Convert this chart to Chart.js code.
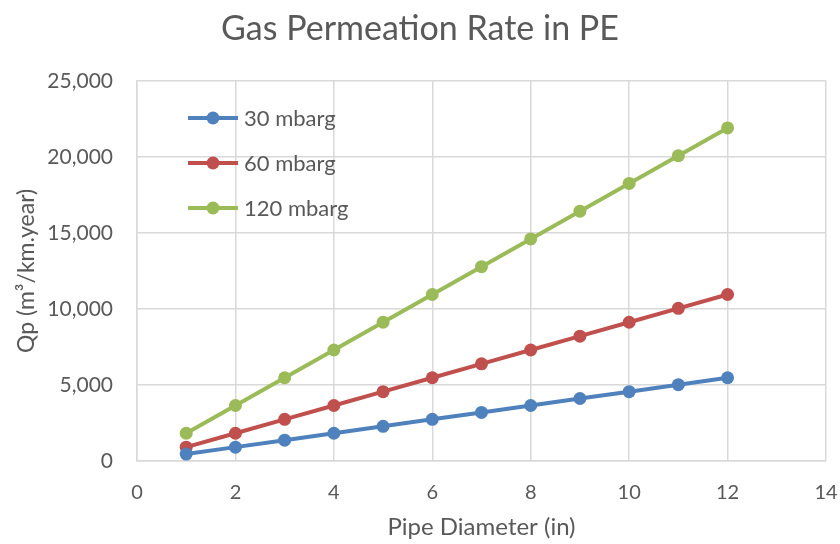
<!DOCTYPE html>
<html>
<head>
<meta charset="utf-8">
<script src="https://cdn.jsdelivr.net/npm/chart.js@4/dist/chart.umd.min.js"></script>
<style>
  html, body { margin: 0; padding: 0; background: #fff; }
  #wrap { width: 840px; height: 544px; }
</style>
</head>
<body>
<div id="wrap"><canvas id="grafico" width="840" height="544"></canvas></div>
<script>
// datos
const diametros = [1, 2, 3, 4, 5, 6, 7, 8, 9, 10, 11, 12];
const qp30 = [456, 912, 1370, 1825, 2280, 2740, 3195, 3650, 4110, 4560, 5020, 5475];
const qp60 = [912, 1825, 2740, 3650, 4560, 5475, 6390, 7300, 8210, 9125, 10040, 10950];
const qp120 = [1825, 3650, 5475, 7300, 9125, 10950, 12775, 14600, 16425, 18250, 20075, 21900];
const series = ["30 mbarg", "60 mbarg", "120 mbarg"];
const colores = ["#4f81bd", "#c0504d", "#9bbb59"];

const gris = "#595959";
const fuente = "Lato, 'Open Sans', sans-serif";

const puntos = (ys) => diametros.map((x, i) => ({ x, y: ys[i] }));

// leyenda dentro del area del grafico, como en Excel
const leyendaInterna = {
  id: "leyendaInterna",
  afterDraw(chart) {
    const { ctx, chartArea } = chart;
    const filas = [118, 163, 208];
    ctx.save();
    chart.data.datasets.forEach((ds, i) => {
      const y = filas[i];
      const x0 = chartArea.left + 51;
      ctx.strokeStyle = ds.borderColor;
      ctx.lineWidth = 4;
      ctx.beginPath();
      ctx.moveTo(x0, y);
      ctx.lineTo(x0 + 50, y);
      ctx.stroke();
      ctx.fillStyle = ds.borderColor;
      ctx.beginPath();
      ctx.arc(x0 + 25, y, 6.5, 0, Math.PI * 2);
      ctx.fill();
      ctx.fillStyle = gris;
      ctx.font = "22px " + fuente;
      ctx.textBaseline = "middle";
      ctx.textAlign = "left";
      ctx.fillText(ds.label, x0 + 56, y + 1);
    });
    ctx.restore();
  }
};

new Chart(document.getElementById("grafico"), {
  type: "line",
  data: {
    datasets: [
      { label: series[0], data: puntos(qp30) },
      { label: series[1], data: puntos(qp60) },
      { label: series[2], data: puntos(qp120) }
    ].map((d, i) => ({
      ...d,
      borderColor: colores[i],
      backgroundColor: colores[i],
      borderWidth: 4,
      pointRadius: 6.5,
      pointHoverRadius: 6.5,
      pointBorderWidth: 0,
      tension: 0,
      fill: false
    }))
  },
  options: {
    responsive: false,
    animation: false,
    devicePixelRatio: 1,
    layout: { padding: { left: 0, right: 0, top: 0, bottom: 0 } },
    plugins: {
      legend: { display: false },
      tooltip: { enabled: false },
      title: {
        display: true,
        text: "Gas Permeation Rate in PE",
        color: gris,
        font: { family: fuente, size: 34, weight: "normal" },
        padding: { top: 9, bottom: 31 }
      }
    },
    scales: {
      x: {
        type: "linear",
        min: 0,
        max: 14,
        ticks: { stepSize: 2, color: gris, padding: 20, font: { family: fuente, size: 20 } },
        grid: { color: "#d9d9d9", lineWidth: 1.5, drawTicks: false },
        border: { color: "#d9d9d9", width: 1.5 },
        title: {
          display: true,
          text: "Pipe Diameter (in)",
          color: gris,
          font: { family: fuente, size: 24 },
          padding: { top: 4, bottom: 2 }
        },
        afterFit(scale) {
          scale.height = 83;
          scale.paddingLeft = 0;
          scale.paddingRight = 14;
        }
      },
      y: {
        min: 0,
        max: 25000,
        ticks: {
          stepSize: 5000,
          color: gris,
          padding: 24,
          font: { family: fuente, size: 21 },
          callback: (v) => v.toLocaleString("en-US")
        },
        grid: { color: "#d9d9d9", lineWidth: 1.5, drawTicks: false },
        border: { color: "#d9d9d9", width: 1.5 },
        title: {
          display: true,
          text: "Qp (m³/km.year)",
          color: gris,
          font: { family: fuente, size: 23 },
          padding: { top: 13, bottom: 4 }
        },
        afterFit(scale) { scale.width = 137; }
      }
    }
  },
  plugins: [leyendaInterna]
});
</script>
</body>
</html>
